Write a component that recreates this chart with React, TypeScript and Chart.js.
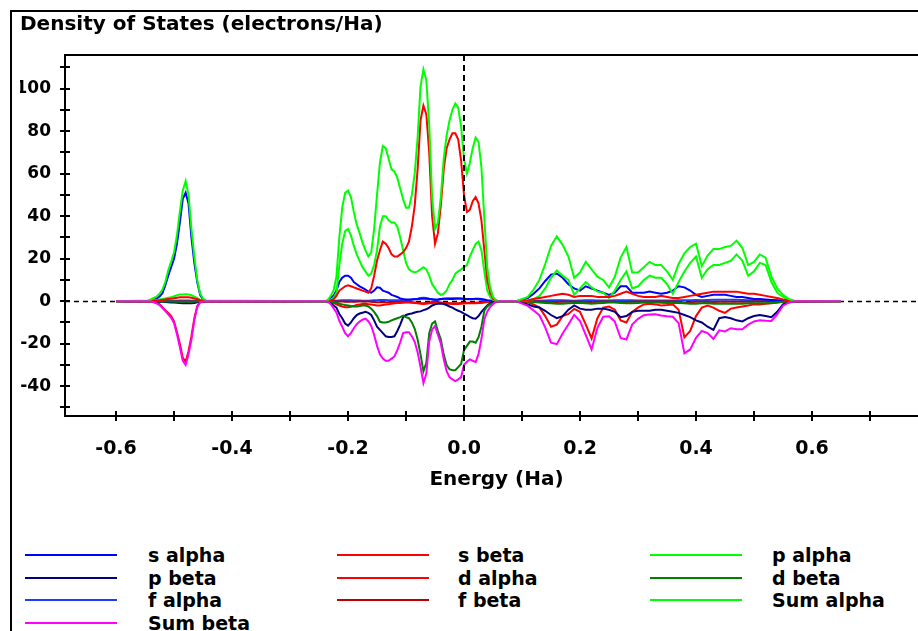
import React, { useEffect, useRef } from 'react';
import { Chart, registerables } from 'chart.js';

Chart.register(...registerables);

// Energy grid (Ha)
const energy = [
  -0.6,
  -0.545, -0.54, -0.535, -0.53, -0.525, -0.52, -0.515, -0.51, -0.505, -0.5, -0.495, -0.49, -0.485, -0.48, -0.475, -0.47, -0.465, -0.46, -0.455, -0.45, -0.445,
  -0.24,
  -0.235, -0.23, -0.225, -0.22, -0.215, -0.21, -0.205, -0.2, -0.195, -0.19,
  -0.185, -0.18, -0.175, -0.17, -0.165, -0.16, -0.155, -0.15, -0.145, -0.14,
  -0.135, -0.13, -0.125, -0.12, -0.115, -0.11, -0.105, -0.1, -0.095, -0.09,
  -0.085, -0.08, -0.075, -0.07, -0.065, -0.06, -0.055, -0.05, -0.045, -0.04,
  -0.035, -0.03, -0.025, -0.02, -0.015, -0.01, -0.005, 0, 0.005, 0.01,
  0.015, 0.02, 0.025, 0.03, 0.035, 0.04, 0.045, 0.05, 0.055, 0.06,
  0.09,
  0.11, 0.12, 0.13, 0.14, 0.15, 0.16, 0.17, 0.18, 0.19, 0.2,
  0.21, 0.22, 0.23, 0.24, 0.25, 0.26, 0.27, 0.28, 0.29, 0.3,
  0.31, 0.32, 0.33, 0.34, 0.35, 0.36, 0.37, 0.38, 0.39, 0.4,
  0.41, 0.42, 0.43, 0.44, 0.45, 0.46, 0.47, 0.48, 0.49, 0.5,
  0.51, 0.52, 0.53, 0.54, 0.55, 0.56, 0.57,
  0.65,
];

const sAlpha = [
  0,
  0.1, 0.4, 0.8, 1.2, 2.2, 3.8, 7.5, 12, 16, 20, 27, 37, 48, 51, 46, 30, 18, 9, 3, 0.8, 0.1,
  0,
  0.3, 1.5, 2.5, 5, 9, 11, 12, 12, 11, 9,
  8, 7, 6.3, 5.5, 4.5, 4, 5, 6.5, 6.3, 5,
  4.5, 4, 3, 2.5, 2, 1.3, 1, 0.8, 0.8, 0.8,
  0.9, 1, 1.2, 1.3, 1.2, 1, 0.9, 0.8, 0.8, 1,
  1.2, 1.2, 1, 1, 1.2, 1.3, 1.3, 1.2, 1, 1,
  1, 1.1, 1.2, 1, 0.8, 0.5, 0.3, 0.1, 0, 0,
  0,
  1.5, 3.5, 6, 9.5, 12.5, 13, 11, 8, 6, 5,
  7, 6, 5, 4, 3, 4, 7, 7, 4, 4,
  4, 4.5, 4, 3.5, 4, 5, 7, 6.5, 5, 3,
  2, 2.5, 3, 3, 3, 2.5, 2, 2, 1.5, 1,
  1, 0.8, 0.6, 0.4, 0.2, 0.1, 0,
  0,
];

const sBeta = [
  0,
  0, -0.1, -0.3, -0.7, -1.3, -2.8, -4.2, -5.5, -7, -9.5, -14.5, -20, -26.5, -28.5, -23.5, -16.5, -8, -2.2, -0.4, -0.1, 0,
  0,
  0, -0.3, -0.8, -1.5, -2, -2.5, -2.8, -2.8, -2.6, -2.2,
  -1.8, -1.5, -1.3, -1.2, -1.4, -1.6, -1.8, -2, -2, -1.8,
  -1.6, -1.4, -1.2, -1, -0.9, -0.8, -0.7, -0.6, -0.6, -0.7,
  -0.8, -1, -1.2, -1.3, -1.2, -1, -0.8, -0.7, -0.7, -0.8,
  -1, -1.1, -1.2, -1.3, -1.3, -1.3, -1.2, -1.1, -1, -1,
  -1, -1, -0.9, -0.8, -0.6, -0.4, -0.2, -0.1, 0, 0,
  0,
  -0.5, -1.5, -3, -7, -12, -11, -7, -6, -3.6, -5,
  -11, -17.5, -8, -3, -2.5, -4, -9, -10, -5, -3,
  -1.5, -1.2, -1.5, -2, -1.8, -1.5, -4, -17, -14, -7,
  -3, -2, -3, -4.5, -5.5, -3.5, -3, -2.5, -2, -1.5,
  -1.5, -1.2, -1, -0.6, -0.3, -0.1, 0,
  0,
];

const pAlpha = [
  0,
  0.1, 0.2, 0.4, 0.6, 0.8, 1, 1.3, 1.6, 1.9, 2.3, 2.8, 3.2, 3.2, 3.3, 3.1, 2.8, 2.1, 1.4, 0.6, 0.2, 0.1,
  0,
  0.2, 0.6, 1.5, 4, 17, 27, 33, 34, 31, 26,
  22, 19, 16, 14, 12, 13, 17, 24, 35, 40,
  40, 38, 37, 37, 35, 30, 24, 18, 15, 14,
  13.5, 14, 15, 16, 15, 12, 8, 6, 4, 3,
  3.5, 5, 8, 10, 13, 14, 15, 16, 17, 21,
  24, 27, 28, 24, 14, 5, 2, 0.6, 0.2, 0,
  0,
  0.3, 1, 2.5, 6, 11, 14.5, 12, 10, 3, 6,
  9, 6.5, 4.5, 4, 1.5, 5, 10, 14, 6, 7,
  10, 12, 11, 11, 8, 3.5, 9, 14, 18, 21,
  11, 15, 17, 17, 18, 19, 22, 19, 12, 14,
  18, 17, 9, 4, 2, 0.7, 0.1,
  0,
];

const pBeta = [
  0,
  0, 0, -0.1, -0.2, -0.3, -0.3, -0.4, -0.5, -0.6, -0.6, -0.7, -0.9, -1, -1, -1, -1, -0.8, -0.5, -0.2, -0.1, 0,
  0,
  -0.2, -0.8, -2, -3, -6, -8, -10.5, -11.5, -10, -8,
  -6.5, -5.8, -5.4, -5, -5.5, -6.5, -9, -12, -13.5, -15,
  -16.5, -16.8, -16.8, -16.5, -14, -11, -7.5, -6.5, -6, -5.8,
  -5.3, -5, -4.8, -4.2, -3.8, -3, -2, -1.5, -1.2, -1.1,
  -1.3, -1.8, -2.5, -3, -3.8, -4.5, -5, -5.8, -6.5, -7.4,
  -8, -8.2, -7, -5, -3.5, -2, -1, -0.3, 0, 0,
  0,
  -1.5, -2.5, -3, -4.5, -6.5, -8, -7, -4, -2, -3.5,
  -4, -4, -3.5, -3.5, -4, -5, -7.5, -7, -5, -4.5,
  -4.5, -4.5, -4, -4, -4.5, -5, -5.5, -6.5, -7.5, -9,
  -10, -12, -13.5, -8, -7.5, -8, -9, -9.5, -8, -7,
  -6.5, -7, -7.5, -5, -1.5, -0.5, 0,
  0,
];

const dAlpha = [
  0,
  0, 0.1, 0.2, 0.3, 0.4, 0.6, 0.8, 1, 1.2, 1.4, 1.6, 1.8, 1.8, 1.9, 1.8, 1.6, 1.3, 0.9, 0.5, 0.2, 0,
  0,
  0, 0.3, 0.8, 2.5, 5, 6, 7, 7.5, 7, 6.5,
  6, 5.5, 5, 4.5, 4, 6, 12, 19, 24, 28,
  27, 25, 22, 21, 21, 22, 23, 25, 28, 35,
  45, 62, 85, 92, 88, 70, 40, 27, 32, 45,
  62, 72, 76, 79, 79, 76, 66, 50, 42, 43,
  47, 49, 46, 38, 24, 10, 4, 1.2, 0.3, 0,
  0,
  0.3, 1, 1.5, 2, 2.5, 3, 3.5, 3, 2, 2.5,
  2.5, 2.5, 2, 2, 2, 2.5, 3.5, 4.5, 3.5, 2.5,
  2, 2, 2, 2.5, 2, 1.5, 1.5, 2, 2.5, 3,
  3.5, 4, 4.5, 4.5, 4.5, 4.5, 4.5, 4, 3.5, 3.5,
  3, 2.5, 2, 1.5, 0.8, 0.3, 0,
  0,
];

const dBeta = [
  0,
  0, 0, 0, 0, -0.1, -0.1, -0.1, -0.2, -0.2, -0.2, -0.3, -0.3, -0.3, -0.3, -0.3, -0.3, -0.2, -0.1, 0, 0, 0,
  0,
  0, -0.2, -0.5, -0.8, -1.2, -1.5, -1.8, -2, -2.3, -2.5,
  -2.5, -2.3, -2, -2, -2.5, -3.5, -5, -7, -9.7, -10,
  -10, -9.7, -9, -8.5, -8, -7.5, -6.8, -7.5, -8, -10,
  -13, -18, -25, -33, -29, -15, -10.5, -9.5, -14, -18,
  -25, -30, -32, -32.5, -32.5, -31, -29.5, -23, -21, -19,
  -19, -19.5, -17, -12, -4.5, -2.5, -1.5, -1, -0.3, 0,
  0,
  -0.2, -0.4, -0.6, -0.8, -1, -1.2, -1.2, -1, -0.8, -0.8,
  -1, -1.2, -1, -0.8, -0.6, -0.6, -0.8, -1, -1, -0.8,
  -0.6, -0.6, -0.6, -0.7, -0.8, -0.8, -0.8, -1, -1.2, -1.2,
  -1, -1, -1.2, -1.2, -1.2, -1.2, -1.2, -1.2, -1, -1,
  -1, -1, -0.8, -0.6, -0.3, -0.1, 0,
  0,
];

const fAlpha = [
  0,
  0, 0, 0, 0, 0, 0.1, 0.1, 0.1, 0.2, 0.2, 0.2, 0.3, 0.3, 0.3, 0.3, 0.2, 0.2, 0.1, 0, 0, 0,
  0,
  0, 0, 0.1, 0.2, 0.3, 0.4, 0.4, 0.4, 0.4, 0.3,
  0.3, 0.3, 0.2, 0.2, 0.2, 0.3, 0.4, 0.5, 0.6, 0.6,
  0.6, 0.5, 0.5, 0.5, 0.4, 0.4, 0.4, 0.5, 0.6, 0.8,
  1, 1.2, 1.5, 1.6, 1.5, 1.2, 0.8, 0.6, 0.7, 0.9,
  1.1, 1.3, 1.4, 1.4, 1.4, 1.3, 1.2, 1, 0.9, 0.9,
  1, 1, 0.9, 0.7, 0.4, 0.2, 0.1, 0, 0, 0,
  0,
  0, 0.1, 0.2, 0.3, 0.4, 0.4, 0.4, 0.3, 0.2, 0.3,
  0.4, 0.4, 0.3, 0.3, 0.3, 0.4, 0.5, 0.5, 0.4, 0.3,
  0.3, 0.3, 0.3, 0.3, 0.3, 0.3, 0.4, 0.4, 0.5, 0.6,
  0.5, 0.6, 0.7, 0.7, 0.7, 0.7, 0.7, 0.6, 0.5, 0.5,
  0.5, 0.4, 0.3, 0.2, 0.1, 0, 0,
  0,
];

const fBeta = [
  0,
  0, 0, 0, 0, 0, 0, -0.1, -0.1, -0.1, -0.2, -0.2, -0.2, -0.2, -0.2, -0.2, -0.1, -0.1, 0, 0, 0, 0,
  0,
  0, 0, -0.1, -0.1, -0.2, -0.2, -0.3, -0.3, -0.3, -0.3,
  -0.2, -0.2, -0.2, -0.2, -0.2, -0.3, -0.4, -0.5, -0.5, -0.5,
  -0.5, -0.5, -0.4, -0.4, -0.4, -0.3, -0.3, -0.3, -0.4, -0.5,
  -0.6, -0.7, -0.9, -1, -0.9, -0.6, -0.4, -0.4, -0.5, -0.6,
  -0.8, -0.9, -1, -1, -1, -1, -0.9, -0.8, -0.7, -0.7,
  -0.7, -0.7, -0.6, -0.5, -0.3, -0.2, -0.1, 0, 0, 0,
  0,
  0, -0.1, -0.2, -0.3, -0.4, -0.4, -0.3, -0.3, -0.2, -0.3,
  -0.4, -0.5, -0.3, -0.2, -0.2, -0.3, -0.4, -0.4, -0.3, -0.2,
  -0.2, -0.2, -0.2, -0.2, -0.2, -0.2, -0.3, -0.6, -0.5, -0.3,
  -0.3, -0.3, -0.4, -0.3, -0.3, -0.3, -0.3, -0.3, -0.3, -0.2,
  -0.2, -0.2, -0.2, -0.1, -0.1, 0, 0,
  0,
];

const sumAlpha = [
  0,
  0.3, 0.8, 1.5, 2.2, 3.5, 5.5, 9, 14.5, 18.5, 23, 31, 42, 52, 56.5, 50, 34, 21, 10, 3.6, 1.2, 0.3,
  0,
  0.5, 2.4, 5, 11.5, 30, 44, 51, 52, 49, 42,
  36, 32, 27.5, 24, 21, 23, 34, 50, 65, 73,
  72, 67, 62, 61, 58, 53, 48, 44, 44, 50,
  60, 77, 101, 109, 104, 83, 49, 34, 37, 49,
  67, 78, 85, 90, 93, 91, 82, 67, 60, 65,
  72, 77, 75, 63, 39, 16, 6.5, 2, 0.5, 0,
  0,
  2, 5.5, 10, 17.5, 26, 30.5, 26.5, 21, 11, 13.5,
  18.5, 15, 11.5, 10, 6.5, 11.5, 20.5, 25.5, 13.5, 13.5,
  16, 18.5, 17, 17, 14, 10, 17.5, 22.5, 25.5, 27,
  16.5, 21.5, 24.5, 24.5, 25.5, 26, 28.5, 25, 17, 18.5,
  22, 20.5, 11.5, 6, 3, 1, 0.1,
  0,
];

const sumBeta = [
  0,
  0, -0.2, -0.5, -1, -1.8, -3.2, -4.7, -6.2, -7.8, -10.3, -15.5, -21.5, -28, -30, -25, -18, -9, -2.8, -0.6, -0.2, 0,
  0,
  -0.2, -1.3, -3.3, -5.3, -9.2, -12, -15, -16.5, -15, -12.7,
  -10.8, -9.6, -8.7, -8.2, -9.4, -11.6, -15.8, -21, -25, -27,
  -28, -28, -27, -26, -23, -19.3, -15, -14.6, -14.6, -16.5,
  -19.1, -24, -31, -38.5, -34, -19, -13.3, -11.7, -15.9, -19.9,
  -27.3, -32.9, -35.7, -36.8, -37.6, -36.8, -35.7, -29.9, -28.5, -27.4,
  -28, -28.7, -24.9, -17.8, -8.6, -4.9, -2.7, -1.4, -0.3, 0,
  0,
  -2.2, -4.4, -6.6, -12.3, -19.5, -20.2, -15.2, -11, -6.4, -9.3,
  -16, -22.7, -12.5, -7.3, -7.1, -9.6, -17.3, -18, -11, -8.3,
  -6.6, -6.3, -6.1, -6.7, -7.1, -7.3, -10.3, -24.5, -22.7, -17.2,
  -14, -15, -17.7, -13.7, -14.2, -12.7, -13.2, -13.2, -11, -9.5,
  -9, -9.2, -9.3, -6.2, -2.1, -0.7, 0,
  0,
];

// Legend order (row-major, 3 columns)
const seriesLabels = ['s alpha', 's beta', 'p alpha', 'p beta', 'd alpha', 'd beta', 'f alpha', 'f beta', 'Sum alpha', 'Sum beta'];
const seriesValues = [sAlpha, sBeta, pAlpha, pBeta, dAlpha, dBeta, fAlpha, fBeta, sumAlpha, sumBeta];
const seriesColors = ['#0000FF', '#FF0000', '#00FF00', '#000080', '#FF0000', '#008000', '#1E3CFF', '#C00000', '#00FF00', '#FF00FF'];
const seriesDrawOrder = [6, 7, 3, 5, 2, 4, 9, 8, 1, 0];

const xTickLabels = [-0.6, -0.4, -0.2, 0.0, 0.2, 0.4, 0.6];
const yTickLabels = [-40, -20, 0, 20, 40, 60, 80, 100];

const FONT = "'DejaVu Sans', Verdana, sans-serif";

const axisPlugin = {
  id: 'dosAxes',
  beforeDatasetsDraw(chart: any) {
    const { ctx, chartArea, scales } = chart;
    const y0 = Math.round(scales.y.getPixelForValue(0)) + 0.5;
    ctx.save();
    ctx.strokeStyle = '#000';
    ctx.lineWidth = 1.5;
    ctx.setLineDash([5, 4]);
    ctx.beginPath();
    ctx.moveTo(chartArea.left, y0);
    ctx.lineTo(chartArea.right, y0);
    ctx.stroke();
    ctx.restore();
  },
  afterDatasetsDraw(chart: any) {
    const { ctx, chartArea, scales } = chart;
    const { left, right, top, bottom } = chartArea;
    ctx.save();
    ctx.strokeStyle = '#000';
    ctx.lineWidth = 2;
    ctx.setLineDash([6, 4]);
    const x0 = Math.round(scales.x.getPixelForValue(0));
    ctx.beginPath();
    ctx.moveTo(x0, top);
    ctx.lineTo(x0, bottom);
    ctx.stroke();
    ctx.setLineDash([]);
    ctx.beginPath();
    ctx.moveTo(left, top);
    ctx.lineTo(right, top);
    scales.y.ticks.forEach((t: any) => {
      const py = Math.round(scales.y.getPixelForValue(t.value));
      ctx.moveTo(left, py);
      ctx.lineTo(left + 5, py);
    });
    scales.x.ticks.forEach((t: any) => {
      const px = Math.round(scales.x.getPixelForValue(t.value));
      ctx.moveTo(px, bottom - 5);
      ctx.lineTo(px, bottom + 5);
    });
    ctx.stroke();
    ctx.restore();
  },
};

export default function App() {
  const canvasRef = useRef<HTMLCanvasElement | null>(null);

  useEffect(() => {
    const canvas = canvasRef.current;
    if (!canvas) return;
    const datasets = seriesLabels.map((label, i) => ({
      label,
      data: energy.map((e, k) => ({ x: e, y: seriesValues[i][k] })),
      borderColor: seriesColors[i],
      backgroundColor: seriesColors[i],
      borderWidth: 2,
      pointRadius: 0,
      fill: false,
      tension: 0,
      order: seriesDrawOrder[i],
    }));
    const chart = new Chart(canvas, {
      type: 'line',
      data: { datasets },
      options: {
        responsive: false,
        animation: false,
        devicePixelRatio: 1,
        layout: { padding: { left: 20, top: 0, right: 0, bottom: 0 } },
        plugins: {
          legend: { display: false },
          tooltip: { enabled: false },
          title: {
            display: true,
            text: 'Density of States (electrons/Ha)',
            align: 'start',
            color: '#000',
            font: { family: FONT, size: 20, weight: 'bold', lineHeight: 1.2 },
            padding: { top: 13, bottom: 18 },
          },
        },
        scales: {
          x: {
            type: 'linear',
            min: -0.688,
            max: 0.8,
            border: { display: true, color: '#000', width: 2 },
            grid: {
              display: true,
              drawOnChartArea: false,
              drawTicks: true,
              tickLength: 22,
              tickColor: 'rgba(0,0,0,0)',
              color: 'rgba(0,0,0,0)',
            },
            ticks: {
              stepSize: 0.1,
              includeBounds: false,
              autoSkip: false,
              maxRotation: 0,
              padding: 0,
              color: '#000',
              font: { family: FONT, size: 19, weight: 'bold', lineHeight: 1.2 },
              callback: (v: any) => {
                const n = Math.round(Number(v) * 10) / 10;
                return xTickLabels.some((t) => Math.abs(t - n) < 1e-6) ? n.toFixed(1) : '';
              },
            },
            title: {
              display: true,
              text: 'Energy (Ha)',
              color: '#000',
              font: { family: FONT, size: 20, weight: 'bold', lineHeight: 1.2 },
              padding: { top: 2, bottom: 8 },
            },
            afterFit: (scale: any) => {
              scale.height = 84;
              scale.paddingLeft = 0;
              scale.paddingRight = 0;
            },
          },
          y: {
            type: 'linear',
            min: -54,
            max: 115.8,
            border: { display: true, color: '#000', width: 2 },
            grid: { display: true, drawOnChartArea: false, drawTicks: true, tickLength: 5, color: '#000', lineWidth: 2 },
            ticks: {
              stepSize: 10,
              includeBounds: false,
              autoSkip: false,
              padding: 9,
              color: '#000',
              font: { family: FONT, size: 17, weight: 'bold', lineHeight: 1.2 },
              callback: (v: any) => {
                const n = Math.round(Number(v));
                return yTickLabels.includes(n) ? String(n) : '';
              },
            },
            afterFit: (scale: any) => {
              scale.width = 45;
            },
          },
        },
      },
      plugins: [axisPlugin],
    } as any);
    return () => chart.destroy();
  }, []);

  const colLineX = [25, 337, 650];
  const colTextX = [148, 458, 772];

  return (
    <div
      style={{
        position: 'fixed',
        left: 0,
        top: 0,
        width: 918,
        height: 631,
        overflow: 'hidden',
        background: '#fff',
      }}
    >
      <div
        style={{
          position: 'absolute',
          left: 10,
          top: 10,
          width: 960,
          height: 700,
          border: '2px solid #000',
          boxSizing: 'border-box',
        }}
      />
      <canvas
        ref={canvasRef}
        width={928}
        height={500}
        style={{ position: 'absolute', left: 0, top: 0, width: 928, height: 500 }}
      />
      {seriesLabels.map((label, i) => {
        const col = i % 3;
        const row = Math.floor(i / 3);
        const cy = 555 + row * 22.7;
        return (
          <React.Fragment key={label}>
            <div
              style={{
                position: 'absolute',
                left: colLineX[col],
                top: Math.round(cy - 1),
                width: 92,
                height: 2,
                background: seriesColors[i],
              }}
            />
            <div
              style={{
                position: 'absolute',
                left: colTextX[col],
                top: Math.round(cy - 12),
                height: 24,
                lineHeight: '24px',
                fontFamily: FONT,
                fontWeight: 'bold',
                fontSize: 19,
                color: '#000',
                whiteSpace: 'nowrap',
              }}
            >
              {label}
            </div>
          </React.Fragment>
        );
      })}
    </div>
  );
}
